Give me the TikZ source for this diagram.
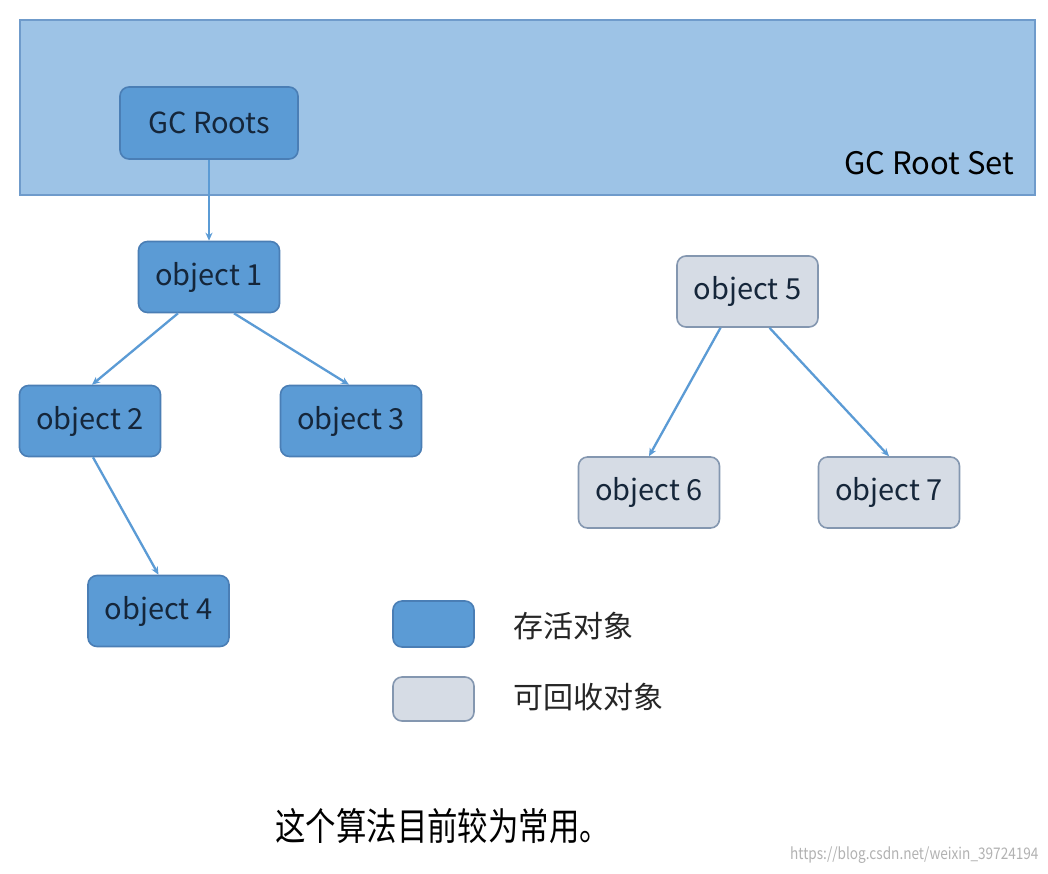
\documentclass[tikz,border=0pt]{standalone}
\usepackage{fontspec}
\setmainfont{Noto Sans CJK SC}
\usetikzlibrary{arrows.meta}
\definecolor{liveblue}{HTML}{5B9BD5}
\definecolor{liveedge}{HTML}{4A7EB5}
\definecolor{deadgray}{HTML}{D6DCE5}
\definecolor{deadedge}{HTML}{8497B0}
\definecolor{setblue}{HTML}{9DC3E6}
\definecolor{setedge}{HTML}{6F9BCB}
\definecolor{labelink}{HTML}{15263A}
\begin{document}
\begin{tikzpicture}[x=1pt,y=-1pt]
  \tikzset{obj/.style={rounded corners=9pt, line width=1.6pt, minimum width=141pt,
                       minimum height=71pt, text=labelink, font=\fontsize{29}{29}\selectfont},
           live/.style={obj, fill=liveblue, draw=liveedge},
           dead/.style={obj, fill=deadgray, draw=deadedge},
           keytext/.style={anchor=west, text=black!85, font=\fontsize{30}{30}\selectfont},
           ref/.style={-{Stealth[length=8pt,width=7pt]}, line width=2.3pt, draw=liveblue}}
  \useasboundingbox (0,0) rectangle (1048,873);
  \fill[white] (0,0) rectangle (1048,873);

  \node[draw=setedge, fill=setblue, line width=1.6pt, minimum width=1015pt, minimum height=175pt,
        inner sep=0pt] (rootset) at (527.5,107.5) {};
  \node[anchor=east, text=black, font=\fontsize{31}{31}\selectfont] (rootsetlbl) at (1018,163) {GC Root Set};

  \node[live, minimum width=178pt, minimum height=72pt] (roots) at (209,123) {GC Roots};
  \node[live] (obj1) at (209,277) {object 1};
  \node[live] (obj2) at (90,421) {object 2};
  \node[live] (obj3) at (351,421) {object 3};
  \node[live] (obj4) at (158.5,611) {object 4};
  \node[dead] (obj5) at (747.5,291.5) {object 5};
  \node[dead] (obj6) at (649,492.5) {object 6};
  \node[dead] (obj7) at (889,492.5) {object 7};

  \draw[ref] (roots.south) -- (obj1.north);
  \draw[ref] ([xshift=-31pt]obj1.south) -- ([xshift=2pt]obj2.north);
  \draw[ref] ([xshift=25pt]obj1.south) -- ([xshift=-2pt]obj3.north);
  \draw[ref] ([xshift=3pt]obj2.south) -- (obj4.north);
  \draw[ref] ([xshift=-27pt]obj5.south) -- (obj6.north);
  \draw[ref] ([xshift=22pt]obj5.south) -- (obj7.north);

  \node[live, minimum width=81pt, minimum height=46pt] (keylive) at (433.5,624) {};
  \node[dead, minimum width=81pt, minimum height=44pt] (keydead) at (433.5,699) {};
  \node[keytext] (keylivelbl) at (510,626) {存活对象};
  \node[keytext] (keydeadlbl) at (510,697) {可回收对象};

  \node[anchor=west, text=black, font=\fontsize{38}{38}\selectfont] (note) at (272,826)
    {\scalebox{0.8}[1]{这个算法目前较为常用。}};
  \node[anchor=east, text=black!30, font=\fontsize{16}{16}\selectfont] (mark) at (1042,855)
    {\scalebox{0.85}[1]{https://blog.csdn.net/weixin\_39724194}};
\end{tikzpicture}
\end{document}
